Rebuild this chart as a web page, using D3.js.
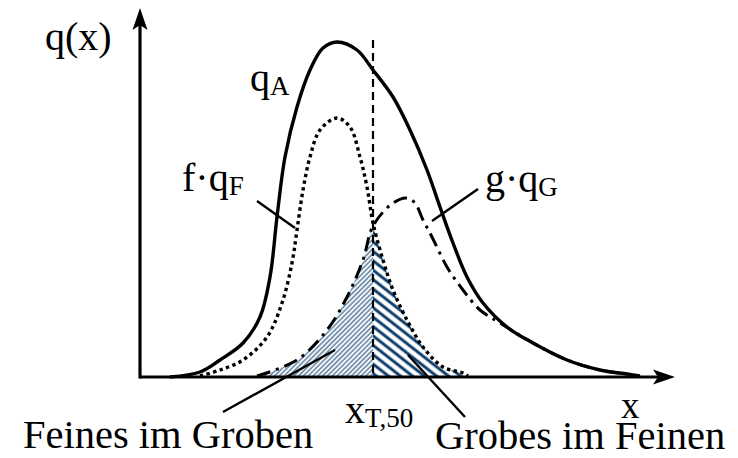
<!DOCTYPE html>
<html>
<head>
<meta charset="utf-8">
<script src="https://cdn.jsdelivr.net/npm/d3@7"></script>
<style>
  body { margin: 0; background: #fff; }
</style>
</head>
<body>
<div id="vis"></div>
<script>
// Curve points, in arbitrary units: [x, q]
var qA = [
  [6, 0], [12, 1], [16, 3.4], [20.6, 6.8], [24, 12], [26, 20], [27.4, 32],
  [29, 44], [31.4, 54], [34, 61.4], [36.6, 65.8], [39.4, 67], [43.4, 65.4],
  [46.6, 61.4], [50.6, 56], [54, 49.4], [57.4, 41.4], [60, 34], [62.6, 26.8],
  [65.4, 20], [68.6, 14.8], [73.4, 10], [78.6, 6.8], [85.4, 3.4], [92, 1.4],
  [97.4, 0.6], [100, 0.2]
];
var fqF = [
  [12, 0.2], [16, 1.4], [20.6, 3.4], [25.4, 8], [28.4, 14.8], [30.4, 22.8],
  [31.4, 29.4], [32.6, 37.4], [34, 44], [36, 49.4], [39.4, 51.8], [42, 50],
  [44, 44], [45.4, 38], [46.6, 30.8], [48.6, 23.4], [50.6, 17.4], [53.4, 11.4],
  [56.6, 6], [60.6, 2], [64.6, 0.8], [65.6, 0.2]
];
var gqG = [
  [23.4, 0.2], [31.4, 3.4], [37.4, 9.4], [41.4, 16], [44.6, 23.4], [46.6, 30.2],
  [50.6, 34.8], [53.4, 35.8], [55, 34.8], [56.6, 31.4], [58.4, 28], [61.4, 22],
  [64.6, 17.4], [68, 13.4], [72, 10.8], [78.6, 6.8], [85.4, 3.4], [92, 1.4],
  [97.4, 0.6]
];

// cut size x_T,50 and the top of its dashed line
var xT50 = 46.6;
var xT50Top = 67.4;

// axis extents
var xAxisEnd = 107;
var yAxisEnd = 73.8;

// leader lines: [[x1, y1], [x2, y2]]
var leaders = [
  [[23.4, 35.2], [31, 29.8]],   // f·qF
  [[67.6, 37.6], [58.4, 31.2]], // g·qG
  [[39, 5.4], [16.6, -7]],      // Feines im Groben
  [[53.6, 4.4], [65, -8]]       // Grobes im Feinen
];

// labels: position, main text, subscript, font size
var labels = [
  { pos: [-19, 65.4], main: "q(x)", sub: "", size: 40 },
  { pos: [22, 57.2], main: "q", sub: "A", size: 40 },
  { pos: [8.4, 37.2], main: "f·q", sub: "F", size: 40 },
  { pos: [69, 37], main: "g·q", sub: "G", size: 40 },
  { pos: [41, -9.2], main: "x", sub: "T,50", size: 40 },
  { pos: [96.2, -8.2], main: "x", sub: "", size: 37 },
  { pos: [-23.4, -14.2], main: "Feines im Groben", sub: "", size: 40.5 },
  { pos: [59, -14.4], main: "Grobes im Feinen", sub: "", size: 40.5 }
];

var width = 738, height = 458;
var serif = "'Liberation Serif', 'Times New Roman', Tinos, Times, serif";

var svg = d3.select("#vis").append("svg")
  .attr("width", width)
  .attr("height", height);

var x = d3.scaleLinear().domain([0, 107]).range([140, 675]);
var y = d3.scaleLinear().domain([0, 74]).range([377, 7]);

var defs = svg.append("defs");

// light hatching (fines in coarse)
var p1 = defs.append("pattern")
  .attr("id", "hatchLight")
  .attr("patternUnits", "userSpaceOnUse")
  .attr("width", 3.4).attr("height", 10)
  .attr("patternTransform", "rotate(45)");
p1.append("rect").attr("width", 3.4).attr("height", 10).attr("fill", "#fff");
p1.append("line").attr("x1", 1).attr("x2", 1).attr("y1", 0).attr("y2", 10)
  .attr("stroke", "#9fb4c8").attr("stroke-width", 1.8);
p1.append("line").attr("x1", 1).attr("x2", 1).attr("y1", 0).attr("y2", 10)
  .attr("stroke", "#3d6288").attr("stroke-width", 0.8);

// dark hatching (coarse in fines)
var p2 = defs.append("pattern")
  .attr("id", "hatchDark")
  .attr("patternUnits", "userSpaceOnUse")
  .attr("width", 7.4).attr("height", 10)
  .attr("patternTransform", "rotate(-52)");
p2.append("rect").attr("width", 7.4).attr("height", 10).attr("fill", "#fff");
p2.append("line").attr("x1", 2).attr("x2", 2).attr("y1", 0).attr("y2", 10)
  .attr("stroke", "#7b98b4").attr("stroke-width", 3.6);
p2.append("line").attr("x1", 2).attr("x2", 2).attr("y1", 0).attr("y2", 10)
  .attr("stroke", "#0c3b68").attr("stroke-width", 2.2);

// clip rectangles left and right of the cut size
defs.append("clipPath").attr("id", "leftOfCut").append("rect")
  .attr("x", 0).attr("y", 0).attr("width", x(xT50)).attr("height", height);
defs.append("clipPath").attr("id", "rightOfCut").append("rect")
  .attr("x", x(xT50)).attr("y", 0).attr("width", width - x(xT50)).attr("height", height);

var curve = d3.curveCatmullRom.alpha(0.5);

var line = d3.line()
  .x((d) => x(d[0]))
  .y((d) => y(d[1]))
  .curve(curve);

var area = d3.area()
  .x((d) => x(d[0]))
  .y0(y(0))
  .y1((d) => y(d[1]))
  .curve(curve);

// hatched areas
svg.append("path").datum(gqG)
  .attr("d", area)
  .attr("fill", "url(#hatchLight)")
  .attr("clip-path", "url(#leftOfCut)");
svg.append("path").datum(fqF)
  .attr("d", area)
  .attr("fill", "url(#hatchDark)")
  .attr("clip-path", "url(#rightOfCut)");

// curves
svg.append("path").datum(qA)
  .attr("d", line)
  .attr("fill", "none")
  .attr("stroke", "#000")
  .attr("stroke-width", 3.4);
svg.append("path").datum(fqF)
  .attr("d", line)
  .attr("fill", "none")
  .attr("stroke", "#000")
  .attr("stroke-width", 3.4)
  .attr("stroke-dasharray", "3.4 3.4");
svg.append("path").datum(gqG)
  .attr("d", line)
  .attr("fill", "none")
  .attr("stroke", "#000")
  .attr("stroke-width", 3)
  .attr("stroke-dasharray", "14 6 3 6");

// dashed cut line
svg.append("line")
  .attr("x1", x(xT50)).attr("x2", x(xT50))
  .attr("y1", y(xT50Top)).attr("y2", y(0))
  .attr("stroke", "#000")
  .attr("stroke-width", 2.2)
  .attr("stroke-dasharray", "8 5");

// axes with arrow heads
var arrow = "M0,0 L-22,-7.5 L-17,0 L-22,7.5 Z";
svg.append("line")
  .attr("x1", x(0)).attr("x2", x(xAxisEnd) - 15)
  .attr("y1", y(0)).attr("y2", y(0))
  .attr("stroke", "#000").attr("stroke-width", 3.2);
svg.append("path").attr("d", arrow)
  .attr("transform", `translate(${x(xAxisEnd)}, ${y(0)})`);
svg.append("line")
  .attr("x1", x(0)).attr("x2", x(0))
  .attr("y1", y(0) + 1.6).attr("y2", y(yAxisEnd) + 15)
  .attr("stroke", "#000").attr("stroke-width", 3.2);
svg.append("path").attr("d", arrow)
  .attr("transform", `translate(${x(0)}, ${y(yAxisEnd)}) rotate(-90)`);

// leader lines
svg.selectAll(".leader").data(leaders).enter().append("line")
  .attr("class", "leader")
  .attr("x1", (d) => x(d[0][0])).attr("y1", (d) => y(d[0][1]))
  .attr("x2", (d) => x(d[1][0])).attr("y2", (d) => y(d[1][1]))
  .attr("stroke", "#000").attr("stroke-width", 2.4);

// labels
var t = svg.selectAll(".label").data(labels).enter().append("text")
  .attr("class", "label")
  .attr("x", (d) => x(d.pos[0]))
  .attr("y", (d) => y(d.pos[1]))
  .attr("font-family", serif)
  .attr("font-size", (d) => d.size)
  .attr("fill", "#000");
t.append("tspan").text((d) => d.main);
t.filter((d) => d.sub).append("tspan")
  .attr("dy", 4)
  .attr("font-size", 27)
  .text((d) => d.sub);
</script>
</body>
</html>
